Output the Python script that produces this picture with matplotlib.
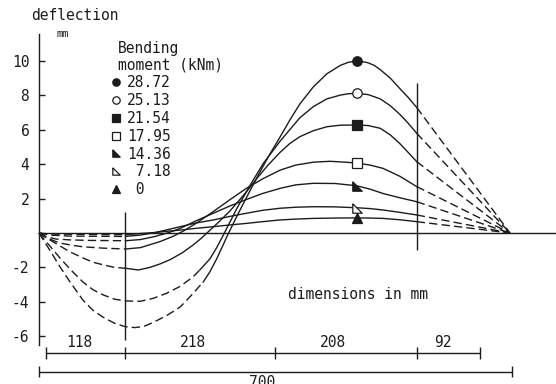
import numpy as np
import matplotlib
matplotlib.use("Agg")
import matplotlib.pyplot as plt
from matplotlib.lines import Line2D

plt.rcParams['font.family'] = ['DejaVu Sans Mono']
plt.rcParams['axes.unicode_minus'] = False

# ---------------- data (x in mm along beam, deflection in mm) ----------------
moments = ["28.72", "25.13", "21.54", "17.95", "14.36", " 7.18", " 0"]

x_2872 = [0, 8, 16, 31, 46, 65, 80, 95, 112, 128, 142, 156, 169, 189, 209, 226, 243, 253, 263, 271, 280, 290, 300, 312, 324, 339, 357, 372, 386, 406, 426, 446, 458, 470, 478, 487, 496, 505, 520, 534, 546, 559, 697]
d_2872 = [0, -0.5, -1.0, -1.96, -2.85, -3.9, -4.5, -4.9, -5.25, -5.45, -5.5, -5.42, -5.2, -4.8, -4.3, -3.6, -2.85, -2.25, -1.5, -0.82, -0.05, 0.75, 1.53, 2.44, 3.33, 4.41, 5.6, 6.62, 7.5, 8.5, 9.26, 9.75, 9.93, 10.0, 9.97, 9.9, 9.75, 9.5, 9.0, 8.4, 7.9, 7.3, 0]

x_2513 = [0, 8, 16, 31, 46, 65, 80, 95, 112, 128, 150, 169, 189, 209, 228, 238, 253, 263, 272, 280, 293, 312, 332, 357, 372, 386, 406, 426, 446, 458, 470, 487, 505, 520, 534, 546, 559, 697]
d_2513 = [0, -0.38, -0.75, -1.45, -2.1, -2.85, -3.3, -3.6, -3.85, -3.95, -3.97, -3.8, -3.5, -3.1, -2.55, -2.15, -1.5, -0.85, -0.18, 0.44, 1.44, 2.75, 4.05, 5.35, 6.05, 6.7, 7.35, 7.8, 8.02, 8.1, 8.12, 8.05, 7.8, 7.4, 6.9, 6.4, 5.8, 0]

x_2154 = [0, 8, 16, 31, 46, 65, 80, 95, 112, 128, 147, 164, 179, 194, 212, 228, 238, 248, 265, 283, 305, 324, 339, 357, 371, 386, 406, 426, 446, 470, 487, 505, 520, 534, 546, 559, 697]
d_2154 = [0, -0.2, -0.4, -0.75, -1.1, -1.45, -1.7, -1.85, -2.0, -2.05, -2.15, -2.0, -1.8, -1.55, -1.15, -0.7, -0.38, -0.02, 0.6, 1.3, 2.3, 3.25, 3.95, 4.7, 5.2, 5.6, 5.95, 6.18, 6.27, 6.28, 6.25, 6.09, 5.7, 5.2, 4.7, 4.15, 0]

x_1795 = [0, 6, 13, 25, 36, 50, 65, 95, 128, 150, 179, 198, 213, 232, 258, 283, 307, 331, 357, 380, 406, 431, 453, 470, 490, 509, 534, 559, 697]
d_1795 = [0, -0.15, -0.3, -0.5, -0.62, -0.72, -0.8, -0.88, -0.93, -0.85, -0.5, -0.2, 0.1, 0.55, 1.25, 1.95, 2.6, 3.15, 3.66, 3.95, 4.12, 4.17, 4.12, 4.07, 3.95, 3.76, 3.3, 2.7, 0]

x_1436 = [0, 10, 25, 46, 75, 128, 150, 172, 194, 209, 232, 258, 283, 307, 331, 357, 380, 406, 438, 470, 490, 509, 534, 559, 697]
d_1436 = [0, -0.2, -0.35, -0.4, -0.43, -0.45, -0.38, -0.2, 0.05, 0.27, 0.7, 1.15, 1.58, 1.95, 2.3, 2.6, 2.8, 2.89, 2.88, 2.75, 2.55, 2.3, 2.05, 1.82, 0]

x_718 = [0, 16, 46, 128, 150, 172, 189, 209, 232, 258, 283, 307, 331, 357, 380, 406, 438, 470, 490, 509, 534, 559, 697]
d_718 = [0, -0.12, -0.18, -0.2, -0.12, 0.03, 0.18, 0.37, 0.58, 0.76, 0.97, 1.15, 1.32, 1.44, 1.5, 1.53, 1.52, 1.47, 1.42, 1.34, 1.2, 1.05, 0]

x_000 = [0, 16, 128, 150, 172, 189, 209, 232, 258, 283, 307, 331, 357, 380, 406, 438, 470, 490, 509, 534, 559, 697]
d_000 = [0, -0.06, -0.1, -0.03, 0.03, 0.1, 0.17, 0.27, 0.37, 0.47, 0.56, 0.66, 0.76, 0.81, 0.85, 0.87, 0.88, 0.87, 0.85, 0.77, 0.66, 0]

# end of the left dashed part / start of the right dashed part (mm)
dash_left_end = [243, 238, 128, 128, 128, 128, 128]
dash_right_start = [559, 559, 559, 559, 559, 559, 559]
marker_x = 470

# support / section lines and dimension chain (mm)
section_lines = [128, 559]
section_lo = [-6.2, -1.0]
section_hi = [1.2, 8.74]
dim_ticks = [10, 128, 349, 559, 653]
dim_labels = ["118", "218", "208", "92"]
dim_label_x = [60, 228, 435, 598]
total_len = 700
yticks = [-6, -4, -2, 2, 4, 6, 8, 10]

# ---------------- figure ----------------
ink = '#1c1c1c'
fig = plt.figure(figsize=(5.56, 3.84), dpi=100)
fig.patch.set_facecolor('white')
ax = fig.add_axes([0, 0, 1, 1])
ax.set_xlim(-57.7, 765.1)
ax.set_ylim(-8.78, 13.55)
ax.set_facecolor('white')

for s in ['top', 'right']:
    ax.spines[s].set_visible(False)
ax.spines['left'].set_position(('data', 0))
ax.spines['left'].set_bounds(-6.5, 11.6)
ax.spines['bottom'].set_position(('data', 0))
ax.spines['bottom'].set_bounds(0, 765)
for s in ['left', 'bottom']:
    ax.spines[s].set_color(ink)
    ax.spines[s].set_linewidth(1.0)
ax.set_xticks([])
ax.set_yticks(yticks)
ax.set_yticklabels([str(t) for t in yticks])
ax.tick_params(axis='y', direction='in', length=4, width=1.0, pad=7,
               labelsize=10.5, colors=ink)

series_x = [x_2872, x_2513, x_2154, x_1795, x_1436, x_718, x_000]
series_d = [d_2872, d_2513, d_2154, d_1795, d_1436, d_718, d_000]

mk_tri = [(-1, 1), (-1, -1), (1, -1), (-1, 1)]
markers = [
    dict(marker='o', mfc=ink, mec=ink),
    dict(marker='o', mfc='white', mec=ink),
    dict(marker='s', mfc=ink, mec=ink),
    dict(marker='s', mfc='white', mec=ink),
    dict(marker=mk_tri, mfc=ink, mec=ink),
    dict(marker=mk_tri, mfc='white', mec=ink),
    dict(marker='^', mfc=ink, mec=ink),
]

dash = (0, (6, 3))
for xs, ds, a, b, mk in zip(series_x, series_d, dash_left_end, dash_right_start, markers):
    xs = np.array(xs, float)
    ds = np.array(ds, float)
    left = xs <= a
    mid = (xs >= a) & (xs <= b)
    right = xs >= b
    ax.plot(xs[left], ds[left], color=ink, lw=1.0, ls=dash, solid_joinstyle='round')
    ax.plot(xs[mid], ds[mid], color=ink, lw=1.0, ls='-', solid_joinstyle='round')
    ax.plot(xs[right], ds[right], color=ink, lw=1.0, ls=dash)
    ym = ds[xs == marker_x][0]
    ax.plot([marker_x], [ym], ls='none', ms=6.8, mew=0.9, **mk)

ax.vlines(section_lines, section_lo, section_hi, color=ink, lw=1.0)

# dimension chain
ax.hlines(-7.0, dim_ticks[0], dim_ticks[-1], color=ink, lw=1.0)
ax.vlines(dim_ticks, -7.35, -6.65, color=ink, lw=1.0)
for lx, lab in zip(dim_label_x, dim_labels):
    ax.text(lx, -6.37, lab, ha='center', va='center', fontsize=10.5, color=ink)
ax.hlines(-8.06, 0, total_len, color=ink, lw=1.0)
ax.vlines([0, total_len], -8.36, -7.76, color=ink, lw=1.0)
ax.text(330, -8.28, str(total_len), ha='center', va='top', fontsize=10.5, color=ink)

# labels
ax.text(-11.8, 12.62, "deflection", ha='left', va='center', fontsize=10.5, color=ink)
ax.text(26.6, 11.6, "mm", ha='left', va='center', fontsize=7.5, color=ink)
ax.text(368.5, -3.6, "dimensions in mm", ha='left', va='center', fontsize=10.5, color=ink)
ax.text(117, 10.26, "Bending\nmoment (kNm)", ha='left', va='center', fontsize=10.5,
        color=ink, linespacing=1.15)

handles = [Line2D([], [], ls='none', ms=5.3, mew=0.9, **mk) for mk in markers]
leg = ax.legend(handles, moments, loc='upper left', bbox_to_anchor=(0.2007, 0.805),
                bbox_transform=ax.transAxes, frameon=False, borderpad=0,
                borderaxespad=0, handlelength=0.6, handletextpad=0.45,
                labelspacing=0.2, fontsize=10.5, numpoints=1)
for t in leg.get_texts():
    t.set_color(ink)

fig.savefig("out.png", dpi=100, facecolor='white')
